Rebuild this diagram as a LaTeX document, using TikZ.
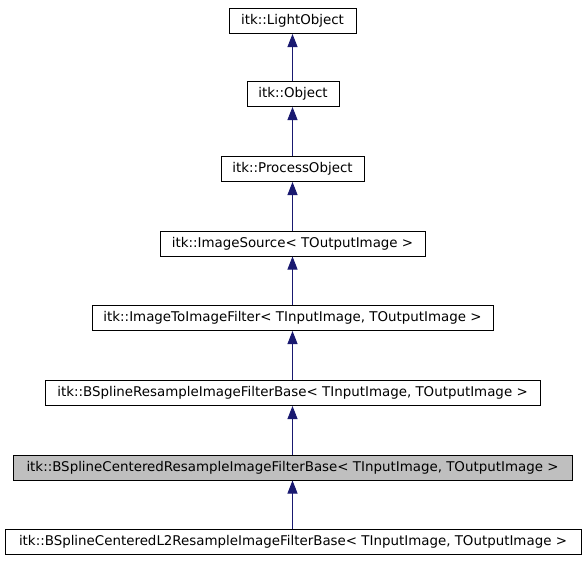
\documentclass[tikz,border=0pt]{standalone}
\usepackage{fontspec}
\setmainfont{DejaVu Sans}
\usetikzlibrary{arrows.meta}
\definecolor{edgeblue}{HTML}{191970}
\definecolor{boxgray}{HTML}{BFBFBF}
\tikzset{
  cls/.style={draw=black, line width=1pt, fill=white, inner sep=0pt, minimum height=25pt, font=\fontsize{13.4}{15}\selectfont, anchor=center},
  cur/.style={cls, fill=boxgray},
  inh/.style={draw=edgeblue, line width=1pt, -{Triangle[width=10pt,length=13pt]}, fill=edgeblue},
}
\begin{document}
\begin{tikzpicture}[x=1pt,y=-1pt]
\useasboundingbox (0,0) rectangle (584,560);
\node[cls, minimum width=127pt] (n1) at (292.5,21) {itk::LightObject};
\node[cls, minimum width=92pt] (n2) at (293,94) {itk::Object};
\node[cls, minimum width=143pt] (n3) at (292.5,169) {itk::ProcessObject};
\node[cls, minimum width=265pt] (n4) at (292.5,243.5) {itk::ImageSource< TOutputImage >};
\node[cls, minimum width=401pt] (n5) at (292.5,318) {itk::ImageToImageFilter< TInputImage, TOutputImage >};
\node[cls, minimum width=495pt] (n6) at (292.5,393) {itk::BSplineResampleImageFilterBase< TInputImage, TOutputImage >};
\node[cur, minimum width=559pt] (n7) at (292.5,467.5) {itk::BSplineCenteredResampleImageFilterBase< TInputImage, TOutputImage >};
\node[cls, minimum width=576pt] (n8) at (293,542) {itk::BSplineCenteredL2ResampleImageFilterBase< TInputImage, TOutputImage >};
\draw[inh] (n2.north -| 292.5,0) -- (n1.south -| 292.5,0);
\draw[inh] (n3.north -| 292.5,0) -- (n2.south -| 292.5,0);
\draw[inh] (n4.north -| 292.5,0) -- (n3.south -| 292.5,0);
\draw[inh] (n5.north -| 292.5,0) -- (n4.south -| 292.5,0);
\draw[inh] (n6.north -| 292.5,0) -- (n5.south -| 292.5,0);
\draw[inh] (n7.north -| 292.5,0) -- (n6.south -| 292.5,0);
\draw[inh] (n8.north -| 292.5,0) -- (n7.south -| 292.5,0);
\end{tikzpicture}
\end{document}
